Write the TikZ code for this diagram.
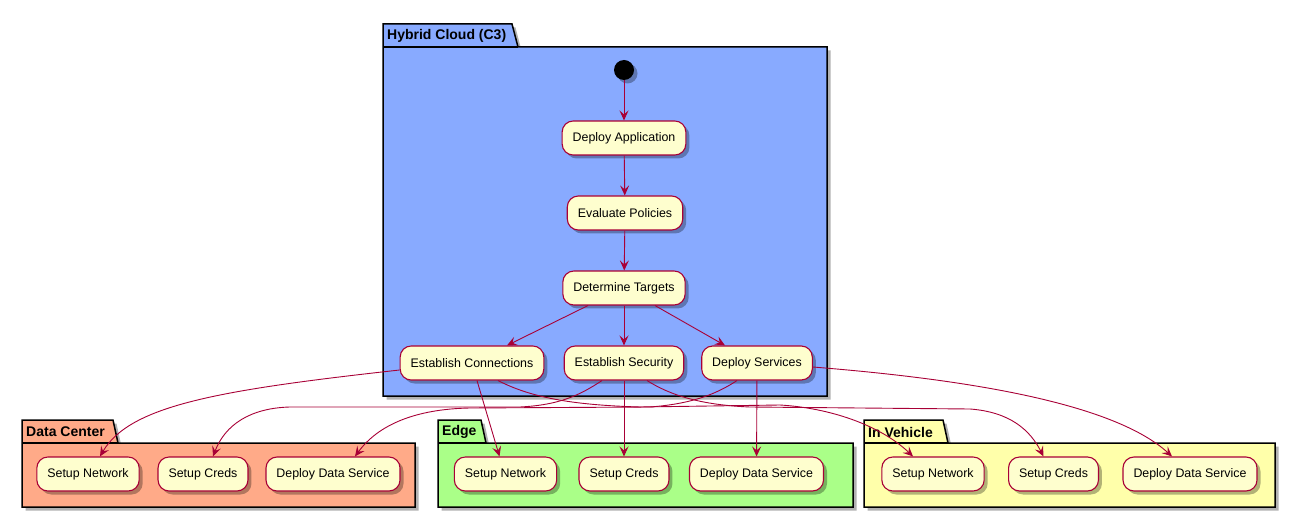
\documentclass[tikz,border=0pt]{standalone}
\usepackage{fontspec}
\setmainfont{Liberation Sans}
\usetikzlibrary{arrows.meta,shadows}
\definecolor{nodefill}{HTML}{FEFECE}
\definecolor{nodeline}{HTML}{A80036}
\definecolor{cloudfill}{HTML}{88AAFF}
\definecolor{dcfill}{HTML}{FFAA88}
\definecolor{edgefill}{HTML}{AAFF88}
\definecolor{vehfill}{HTML}{FFFFAA}
\tikzset{
  shad/.style={drop shadow={shadow xshift=3.5pt,shadow yshift=-3.5pt,opacity=0.3,fill=black}},
  act/.style={draw=nodeline, fill=nodefill, line width=1.1pt, rounded corners=11pt,
    minimum height=34pt, inner xsep=10.5pt, inner ysep=0pt,
    font=\fontsize{12.4}{14}\selectfont, shad},
  flow/.style={draw=nodeline, line width=0.9pt,
    -{Stealth[length=10pt,width=9pt,inset=4pt]}},
  pkg/.style={draw=black, line width=1.5pt, line join=miter, shad},
  pkgtitle/.style={font=\fontsize{14}{16}\selectfont\bfseries, anchor=west, inner sep=0pt},
  startdot/.style={circle, fill=black, minimum size=20pt, inner sep=0pt, shad},
}
\begin{document}
\begin{tikzpicture}[x=1pt,y=-1pt]
\useasboundingbox (0,0) rectangle (1295,518);

% packages
\draw[pkg, fill=cloudfill] (383,47) -- (383,24) -- (512,24) -- (518,47) -- (827,47) -- (827,396) -- (383,396) -- cycle;
\draw[black, line width=1.5pt] (383,47) -- (518,47);
\node[pkgtitle] (hctitle) at (387,36) {Hybrid Cloud (C3)};

\draw[pkg, fill=dcfill] (22,443) -- (22,420) -- (113,420) -- (118,443) -- (415,443) -- (415,507) -- (22,507) -- cycle;
\draw[black, line width=1.5pt] (22,443) -- (118,443);
\node[pkgtitle] (dctitle) at (26,432) {Data Center};

\draw[pkg, fill=edgefill] (438,443) -- (438,420) -- (481,420) -- (486,443) -- (853,443) -- (853,507) -- (438,507) -- cycle;
\draw[black, line width=1.5pt] (438,443) -- (486,443);
\node[pkgtitle] (edtitle) at (442,432) {Edge};

\draw[pkg, fill=vehfill] (864,443) -- (864,420) -- (943,420) -- (948,443) -- (1275,443) -- (1275,507) -- (864,507) -- cycle;
\draw[black, line width=1.5pt] (864,443) -- (948,443);
\node[pkgtitle] (ivtitle) at (868,432) {In Vehicle};

% activities
\node[startdot] (start) at (624,70) {};
\node[act] (da) at (624,138) {Deploy Application};
\node[act] (ep) at (625,213) {Evaluate Policies};
\node[act] (dt) at (624,288) {Determine Targets};
\node[act] (ec) at (472,363) {Establish Connections};
\node[act] (es) at (624,363) {Establish Security};
\node[act] (ds) at (757,363) {Deploy Services};

\node[act] (dcn) at (88,474) {Setup Network};
\node[act] (dcc) at (203,474) {Setup Creds};
\node[act] (dcd) at (333,474) {Deploy Data Service};

\node[act] (edn) at (505.5,474) {Setup Network};
\node[act] (edc) at (624,474) {Setup Creds};
\node[act] (edd) at (756.5,474) {Deploy Data Service};

\node[act] (ivn) at (933,474) {Setup Network};
\node[act] (ivc) at (1053.5,474) {Setup Creds};
\node[act] (ivd) at (1190,474) {Deploy Data Service};

% flows in the cloud
\draw[flow] (start) -- (da);
\draw[flow] (da) -- (ep);
\draw[flow] (ep) -- (dt);
\draw[flow] ([xshift=-36pt]dt.south) -- ([xshift=35pt]ec.north);
\draw[flow] (dt) -- (es);
\draw[flow] ([xshift=31pt]dt.south) -- ([xshift=-32pt]ds.north);

% establish connections
\draw[flow] ([yshift=-7pt]ec.west) .. controls (220,390) and (130,405) .. ([xshift=12pt]dcn.north);
\draw[flow] ([xshift=5pt]ec.south) -- ([xshift=-6pt]edn.north);
\draw[flow] ([xshift=26pt]ec.south) .. controls (530,397) and (570,405) .. (640,407)
  -- (780,405) .. controls (830,408) and (880,425) .. ([xshift=-20pt]ivn.north);

% establish security
\draw[flow] ([xshift=-22pt]es.south) .. controls (580,395) and (560,405) .. (520,407)
  -- (290,407) .. controls (250,408) and (225,425) .. ([xshift=10pt]dcc.north);
\draw[flow] (es) -- (edc);
\draw[flow] ([xshift=23pt]es.south) .. controls (670,395) and (700,405) .. (750,407)
  -- (970,409) .. controls (1010,412) and (1030,430) .. ([xshift=-10pt]ivc.north);

% deploy services
\draw[flow] ([xshift=-20pt]ds.south) .. controls (715,395) and (690,404) .. (650,407)
  -- (470,408) .. controls (415,409) and (378,425) .. ([xshift=22pt]dcd.north);
\draw[flow] (ds) -- (edd);
\draw[flow] ([yshift=-4pt]ds.east) .. controls (950,378) and (1110,400) .. ([xshift=-18pt]ivd.north);
\end{tikzpicture}
\end{document}
